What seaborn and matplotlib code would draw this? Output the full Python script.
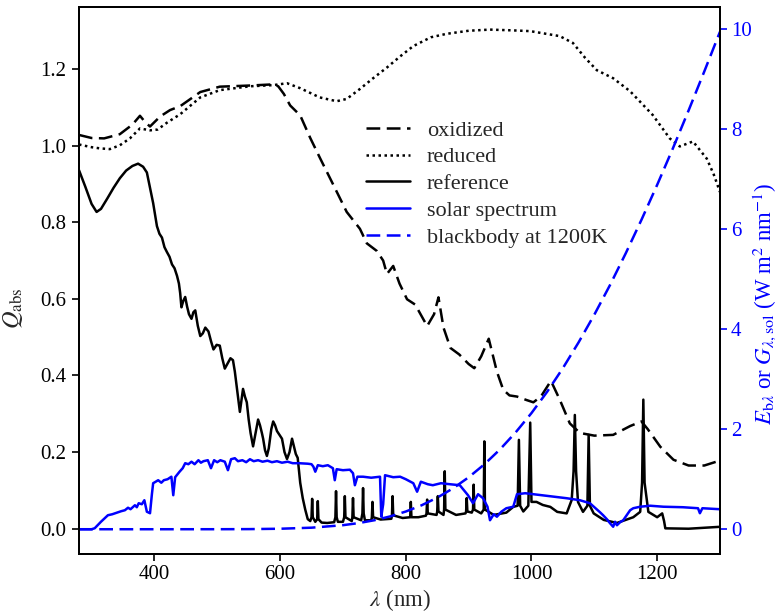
import matplotlib
matplotlib.use("Agg")
import matplotlib.pyplot as plt
import seaborn as sns

# ---------------- data ----------------
# (wavelength nm, value) pairs
oxidized = [(280, 1.028), (300, 1.020), (320, 1.019), (345, 1.030), (365, 1.055), (377, 1.078),
            (385, 1.062), (393, 1.050), (409, 1.076), (425, 1.093), (441, 1.103), (473, 1.140),
            (504, 1.154), (552, 1.157), (589, 1.160), (597, 1.155), (606, 1.135), (616, 1.105),
            (632, 1.079), (648, 1.020), (664, 0.966), (684, 0.900), (706, 0.827), (727, 0.783),
            (738, 0.745), (746, 0.735), (754, 0.725), (764, 0.700), (770, 0.665), (780, 0.686),
            (790, 0.640), (802, 0.599), (815, 0.585), (834, 0.529), (845, 0.560), (852, 0.604),
            (860, 0.525), (871, 0.472), (885, 0.455), (900, 0.430), (909, 0.419), (920, 0.450),
            (932, 0.496), (945, 0.410), (955, 0.363), (965, 0.348), (977, 0.345), (992, 0.336),
            (1003, 0.330), (1015, 0.345), (1031, 0.386), (1045, 0.337), (1061, 0.275),
            (1077, 0.250), (1100, 0.243), (1130, 0.245), (1157, 0.268), (1175, 0.280),
            (1185, 0.260), (1205, 0.214), (1226, 0.180), (1250, 0.165), (1275, 0.165),
            (1300, 0.178)]

reduced = [(280, 1.003), (300, 0.996), (313, 0.993), (329, 0.991), (345, 1.001), (361, 1.019),
           (377, 1.045), (393, 1.040), (405, 1.042), (420, 1.060), (441, 1.082), (473, 1.126),
           (504, 1.145), (552, 1.155), (589, 1.158), (611, 1.163), (632, 1.150), (663, 1.126),
           (690, 1.116), (706, 1.122), (727, 1.148), (748, 1.176), (770, 1.204), (791, 1.233),
           (812, 1.260), (840, 1.283), (865, 1.292), (900, 1.300), (934, 1.303), (970, 1.301),
           (998, 1.299), (1045, 1.286), (1066, 1.268), (1085, 1.230), (1104, 1.197),
           (1130, 1.176), (1157, 1.142), (1193, 1.080), (1220, 1.019), (1236, 0.998),
           (1257, 1.011), (1279, 0.966), (1290, 0.925), (1300, 0.879)]

reference = [(280, 0.936), (290, 0.893), (300, 0.848), (308, 0.827), (315, 0.835), (325, 0.862),
             (335, 0.890), (345, 0.915), (355, 0.935), (365, 0.947), (374, 0.953), (382, 0.945),
             (388, 0.930), (393, 0.890), (398, 0.850), (404, 0.790), (408, 0.770), (412, 0.760),
             (416, 0.735), (420, 0.722), (424, 0.710), (428, 0.690), (432, 0.680), (436, 0.660),
             (439, 0.640), (441, 0.615), (443, 0.578), (446, 0.595), (449, 0.605), (452, 0.580),
             (455, 0.560), (459, 0.548), (462, 0.565), (465, 0.570), (469, 0.530), (473, 0.503),
             (477, 0.510), (481, 0.525), (486, 0.515), (490, 0.490), (494, 0.468), (499, 0.480),
             (504, 0.478), (508, 0.445), (512, 0.418), (516, 0.430), (521, 0.445), (525, 0.440),
             (528, 0.410), (531, 0.370), (534, 0.330), (536, 0.305), (539, 0.340), (541, 0.365),
             (544, 0.345), (547, 0.330), (550, 0.285), (553, 0.250), (557, 0.215), (561, 0.250),
             (565, 0.285), (568, 0.270), (571, 0.250), (573, 0.235), (576, 0.205), (579, 0.190),
             (582, 0.210), (586, 0.260), (589, 0.280), (592, 0.270), (595, 0.255), (599, 0.245),
             (603, 0.235), (607, 0.200), (611, 0.182), (615, 0.200), (619, 0.235), (622, 0.215),
             (625, 0.195), (628, 0.185), (632, 0.120), (636, 0.080), (640, 0.050), (644, 0.025),
             (648, 0.020), (650, 0.030), (651, 0.078), (652, 0.030), (656, 0.018), (659, 0.025),
             (660, 0.072), (661, 0.025), (666, 0.016), (675, 0.015), (686, 0.017), (688, 0.030),
             (689, 0.098), (690, 0.030), (692, 0.018), (700, 0.018), (702, 0.030), (703, 0.085),
             (704, 0.030), (714, 0.020), (715, 0.030), (716, 0.080), (717, 0.030), (729, 0.022),
             (731, 0.040), (732, 0.106), (733, 0.040), (735, 0.022), (745, 0.022), (746, 0.030),
             (747, 0.070), (748, 0.030), (760, 0.024), (777, 0.026), (778, 0.035), (779, 0.085),
             (780, 0.035), (795, 0.028), (807, 0.030), (808, 0.070), (809, 0.030), (820, 0.030),
             (832, 0.034), (833, 0.040), (834, 0.076), (835, 0.040), (849, 0.036), (850, 0.045),
             (851, 0.085), (852, 0.045), (860, 0.036), (861, 0.050), (862, 0.150), (863, 0.050),
             (880, 0.036), (895, 0.040), (896, 0.045), (897, 0.080), (898, 0.045), (905, 0.042),
             (907, 0.050), (908, 0.115), (909, 0.050), (920, 0.040), (924, 0.050), (925, 0.228),
             (926, 0.050), (940, 0.036), (960, 0.042), (971, 0.057), (978, 0.060), (980, 0.232),
             (982, 0.060), (987, 0.045), (995, 0.060), (998, 0.277), (1000, 0.070), (1008, 0.070),
             (1018, 0.062), (1030, 0.057), (1041, 0.044), (1056, 0.040), (1064, 0.075),
             (1067, 0.150), (1069, 0.297), (1071, 0.150), (1074, 0.070), (1082, 0.044),
             (1089, 0.060), (1091, 0.245), (1093, 0.060), (1099, 0.040), (1115, 0.023),
             (1136, 0.015), (1162, 0.030), (1173, 0.044), (1176, 0.120), (1178, 0.337),
             (1180, 0.120), (1186, 0.044), (1200, 0.030), (1208, 0.040), (1211, 0.020),
             (1213, 0.001), (1250, 0.000), (1300, 0.005)]

solar = [(280, 0.0), (300, 0.0), (305, 0.02), (315, 0.15), (326, 0.28), (333, 0.30), (340, 0.33),
         (347, 0.36), (353, 0.38), (358, 0.43), (362, 0.40), (369, 0.48), (372, 0.44), (375, 0.52),
         (380, 0.50), (384, 0.58), (388, 0.35), (393, 0.32), (396, 0.70), (398, 0.92), (406, 0.98),
         (411, 0.93), (415, 0.98), (421, 1.00), (427, 1.05), (430, 0.68), (433, 1.04), (440, 1.15),
         (445, 1.22), (449, 1.32), (454, 1.30), (459, 1.35), (464, 1.30), (470, 1.38), (474, 1.33),
         (478, 1.36), (485, 1.38), (490, 1.22), (495, 1.38), (500, 1.34), (505, 1.38), (512, 1.35),
         (517, 1.18), (522, 1.40), (528, 1.42), (533, 1.36), (540, 1.38), (546, 1.34), (552, 1.40),
         (558, 1.36), (565, 1.38), (572, 1.35), (580, 1.37), (587, 1.34), (595, 1.36), (603, 1.33),
         (612, 1.35), (620, 1.32), (630, 1.32), (644, 1.31), (650, 1.30), (653, 1.25), (656, 1.15),
         (660, 1.28), (668, 1.26), (676, 1.28), (684, 1.22), (687, 0.98), (690, 1.20), (700, 1.18),
         (711, 1.19), (716, 1.12), (719, 0.88), (723, 1.05), (732, 1.05), (745, 1.03), (759, 1.05),
         (761, 0.25), (764, 0.50), (767, 1.08), (780, 1.04), (791, 1.05), (800, 1.00), (812, 0.92),
         (818, 0.75), (824, 0.95), (835, 0.90), (843, 0.88), (856, 0.92), (870, 0.90), (886, 0.88),
         (899, 0.68), (907, 0.52), (915, 0.70), (923, 0.62), (930, 0.45), (934, 0.18), (940, 0.30),
         (945, 0.25), (952, 0.35), (960, 0.42), (971, 0.45), (977, 0.70), (990, 0.72),
         (1003, 0.70), (1030, 0.66), (1056, 0.62), (1077, 0.58), (1093, 0.52), (1109, 0.34),
         (1114, 0.28), (1120, 0.20), (1125, 0.12), (1130, 0.05), (1133, 0.15), (1136, 0.08),
         (1141, 0.14), (1146, 0.18), (1157, 0.38), (1162, 0.42), (1173, 0.45), (1189, 0.47),
         (1210, 0.45), (1241, 0.44), (1265, 0.42), (1268, 0.32), (1272, 0.42), (1300, 0.40)]

blackbody = [(280, 0.0), (400, 0.0), (500, 0.0005), (550, 0.0025), (600, 0.010), (650, 0.031),
             (700, 0.081), (725, 0.123), (750, 0.180), (775, 0.256), (800, 0.354), (825, 0.478),
             (850, 0.631), (875, 0.816), (900, 1.038), (925, 1.297), (950, 1.597), (975, 1.939),
             (1000, 2.322), (1025, 2.749), (1050, 3.221), (1075, 3.736), (1100, 4.289),
             (1125, 4.882), (1150, 5.516), (1175, 6.185), (1200, 6.884), (1225, 7.613),
             (1250, 8.371), (1275, 9.151), (1300, 9.946)]

labels = ["oxidized", "reduced", "reference", "solar spectrum", "blackbody at 1200K"]
x_ticks = [400, 600, 800, 1000, 1200]
q_ticks = [0.0, 0.2, 0.4, 0.6, 0.8, 1.0, 1.2]
e_ticks = [0, 2, 4, 6, 8, 10]


def split(pairs):
    return [p[0] for p in pairs], [p[1] for p in pairs]


# ---------------- style ----------------
sns.set_theme(style="ticks")
plt.rcParams['font.family'] = ['Liberation Serif', 'DejaVu Serif']
plt.rcParams['mathtext.fontset'] = 'stix'
plt.rcParams['axes.linewidth'] = 1.4

BLUE = "#0000ff"
lw = 1.8
DASH = (0, (5.5, 2.6))
DOT = (0, (1.0, 1.4))

fig = plt.figure(figsize=(7.8, 6.15), dpi=100)
ax = fig.add_axes([79 / 780, 1 - 554 / 615, (720 - 79) / 780, (554 - 7) / 615])
ax2 = ax.twinx()

series = [
    (ax, oxidized, "black", DASH, labels[0]),
    (ax, reduced, "black", DOT, labels[1]),
    (ax, reference, "black", "-", labels[2]),
    (ax2, solar, BLUE, "-", labels[3]),
    (ax2, blackbody, BLUE, DASH, labels[4]),
]
for a, pairs, col, ls, lab in series:
    xs, ys = split(pairs)
    sns.lineplot(x=xs, y=ys, ax=a, color=col, lw=lw, linestyle=ls,
                 errorbar=None, label=lab, legend=False, sort=False)

ax.set_xlim(280, 1300)
ax.set_ylim(-0.066, 1.362)
ax2.set_ylim(-0.495, 10.44)

ax.set_xticks(x_ticks)
ax.set_yticks(q_ticks)
ax.set_yticklabels([f"{v:.1f}" for v in q_ticks])
ax2.set_yticks(e_ticks)

fs = 15
ax.tick_params(axis="both", labelsize=fs, direction="out", length=5, width=1.2,
               colors="black", pad=4)
ax.tick_params(axis="x", pad=3)
ax2.tick_params(axis="y", labelsize=fs, direction="out", length=5, width=1.2,
                colors=BLUE, labelcolor=BLUE, pad=3)
for s in ax2.spines.values():
    s.set_color("black")
    s.set_linewidth(1.4)

lfs = 16.5
ax.set_xlabel(r"$\lambda$ (nm)", fontsize=lfs)
ax.xaxis.set_label_coords(0.5, -0.06)
ax.set_ylabel(r"$Q_{\rm abs}$", fontsize=lfs + 1)
ax.yaxis.set_label_coords(-0.085, 0.45)
ax2.set_ylabel(r"$E_{\mathrm{b}\lambda}$ or $G_{\lambda,\mathrm{sol}}$ (W m$^2$ nm$^{-1}$)",
               fontsize=lfs, color=BLUE)
ax2.yaxis.set_label_coords(1.047, 0.457)

h1, l1 = ax.get_legend_handles_labels()
h2, l2 = ax2.get_legend_handles_labels()
leg = ax2.legend(h1 + h2, l1 + l2, loc="upper left", bbox_to_anchor=(0.416, 0.83),
                 frameon=False, fontsize=16, handlelength=2.0, handletextpad=0.75,
                 labelspacing=0.28)

fig.savefig("out.png", dpi=100)
